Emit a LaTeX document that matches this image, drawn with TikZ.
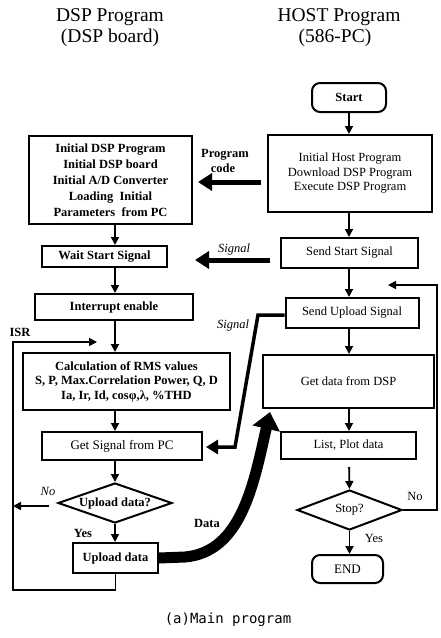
\documentclass[tikz,border=0pt]{standalone}
\usepackage{fontspec}
\setmainfont{Liberation Serif}
\newfontfamily\capfont{DejaVu Sans Mono}
\usetikzlibrary{arrows.meta,shapes.geometric}
\begin{document}
\begin{tikzpicture}[x=1pt,y=-1pt,
  box/.style={draw, line width=2pt, rectangle, inner sep=0pt, align=center},
  rbox/.style={box, rounded corners=8pt},
  dbox/.style={draw, line width=2pt, diamond, inner sep=0pt},
  hfont/.style={font=\fontsize{12.5}{14.5}\selectfont},
  dfont/.style={font=\fontsize{12.5}{16}\selectfont\bfseries},
  cfont/.style={font=\fontsize{12.5}{14.5}\selectfont\bfseries},
  title/.style={font=\fontsize{19.5}{22}\selectfont, inner sep=0pt},
  lab/.style={font=\fontsize{12.5}{14}\selectfont, inner sep=0pt},
  blab/.style={font=\fontsize{12.5}{14}\selectfont\bfseries, inner sep=0pt},
  ilab/.style={font=\fontsize{12.5}{14}\selectfont\itshape, inner sep=0pt},
  arr/.style={line width=1.8pt, -{Triangle[length=8pt,width=8pt]}},
  thinline/.style={line width=1.6pt},
  thinarr/.style={line width=1.6pt, -{Triangle[length=8pt,width=8pt]}},
  fatarr/.style={line width=5pt, -{Triangle[length=14pt,width=17pt]}},
  medarr/.style={line width=3.5pt, -{Triangle[length=12pt,width=14pt]}},
  dataarr/.style={line width=11pt, -{Triangle[length=17pt,width=27pt]}},
]
\useasboundingbox (0,0) rectangle (440,638);
\fill[white] (0,0) rectangle (440,638);

% titles
\node[title] (t1) at (110,17) {DSP Program};
\node[title] (t2) at (110,38) {(DSP board)};
\node[title] (t3) at (339,17) {HOST Program};
\node[title] (t4) at (335,38) {(586-PC)};

% host column
\node[rbox, font=\fontsize{12.5}{14.5}\selectfont\bfseries, minimum width=74pt, minimum height=29pt] (start) at (349,97.5) {Start};
\node[box, hfont, minimum width=164pt, minimum height=77pt] (hinit) at (350,173.5) {Initial Host Program\\Download DSP Program\\Execute DSP Program};
\node[box, hfont, minimum width=137pt, minimum height=30pt] (sstart) at (349.5,253) {Send Start Signal};
\node[box, hfont, minimum width=133pt, minimum height=30pt] (supload) at (352,313) {Send Upload Signal};
\node[box, hfont, minimum width=171pt, minimum height=53pt] (getdata) at (348.5,381.5) {Get data from DSP};
\node[box, hfont, minimum width=135pt, minimum height=27pt] (list) at (348.5,445.5) {List, Plot data};
\node[dbox, hfont, minimum width=105pt, minimum height=40pt] (stop) at (349.5,510) {\makebox[0pt]{Stop?}};
\node[rbox, font=\fontsize{13}{15}\selectfont, minimum width=71pt, minimum height=28pt] (end) at (347.5,569) {END};

% DSP column
\node[box, dfont, minimum width=163pt, minimum height=88pt] (dinit) at (110.5,180) {Initial DSP Program\\Initial DSP board\\Initial A/D Converter\\Loading~~Initial\\Parameters~~from PC};
\node[box, dfont, minimum width=125pt, minimum height=21pt] (wait) at (104.5,256.5) {Wait Start Signal};
\node[box, dfont, minimum width=158pt, minimum height=26pt] (intr) at (114,307) {Interrupt enable};
\node[box, cfont, minimum width=207pt, minimum height=57pt] (calc) at (126.5,381.5) {Calculation of RMS values\\S, P, Max.Correlation Power, Q, D\\Ia, Ir, Id, cosφ,λ, \%THD};
\node[box, font=\fontsize{13}{15}\selectfont, minimum width=160pt, minimum height=28pt] (getsig) at (122,446) {Get Signal from PC};
\node[dbox, dfont, minimum width=114pt, minimum height=40pt] (updq) at (115,503) {\makebox[0pt]{Upload data?}};
\node[box, dfont, minimum width=85pt, minimum height=30pt] (upd) at (115.5,558) {Upload data};

% labels
\node[blab] (lpc1) at (225,155) {Program};
\node[blab] (lpc2) at (223,168) {code};
\node[ilab] (ls1) at (234,249) {Signal};
\node[ilab] (ls2) at (233,325) {Signal};
\node[blab] (ldata) at (207,523) {Data};
\node[ilab] (lno1) at (48,491) {No};
\node[blab] (lyes1) at (83,533) {Yes};
\node[lab] (lno2) at (415,496) {No};
\node[lab] (lyes2) at (374,538) {Yes};
\node[blab] (lisr) at (20,332) {ISR};
\node[font=\capfont\fontsize{14}{16}\selectfont, inner sep=0pt] (cap) at (228,620) {(a)Main program};

% helper coordinates
\coordinate (ax) at (115,0);
\coordinate (hx) at (349,0);
\coordinate (pcy) at (0,182);
\coordinate (sy) at (0,260);
\coordinate (uy) at (0,315);
\coordinate (u1) at (258,315);
\coordinate (u2) at (235,447);
\coordinate (gy) at (0,447);
\coordinate (lb1) at (115.5,590);
\coordinate (lb2) at (13,590);
\coordinate (lb3) at (13,342);
\coordinate (isr) at (97,342);
\coordinate (ny) at (0,506);
\coordinate (rb1) at (437,510);
\coordinate (rb2) at (437,285);
\coordinate (rend) at (388,285);
\coordinate (d1) at (185,557);
\coordinate (dtip) at (270,412);

% DSP column arrows
\draw[arr] (dinit.south -| ax) -- (wait.north -| ax);
\draw[arr] (wait.south -| ax) -- (intr.north -| ax);
\draw[arr] (intr.south -| ax) -- (calc.north -| ax);
\draw[arr] (calc.south -| ax) -- (getsig.north -| ax);
\draw[arr] (getsig.south -| ax) -- (updq.north);
\draw[arr] (updq.south) -- (upd.north -| updq.south);

% host column arrows
\draw[arr] (start.south -| hx) -- (hinit.north -| hx);
\draw[arr] (hinit.south -| hx) -- (sstart.north -| hx);
\draw[arr] (sstart.south -| hx) -- (supload.north -| hx);
\draw[arr] (supload.south -| hx) -- (getdata.north -| hx);
\draw[arr] (getdata.south -| hx) -- (list.north -| hx);
\draw[arr, shorten <=7pt] (list.south -| hx) -- (stop.north);
\draw[arr] (stop.south) -- (end.north -| stop.south);

% cross arrows
\draw[fatarr, shorten <=6pt, shorten >=5pt] (hinit.west |- pcy) -- (dinit.east |- pcy);
\draw[fatarr, shorten <=10pt, shorten >=27pt] (sstart.west |- sy) -- (wait.east |- sy);
\draw[medarr, shorten >=3pt] (supload.west |- uy) -- (u1) -- (u2) -- (getsig.east |- gy);
\draw[dataarr] (upd.east) -- (d1) .. controls (242,552) and (254,482) .. (dtip);

% loops
\draw[thinarr] (upd.south) -- (lb1) -- (lb2) -- (lb3) -- (isr);
\draw[thinarr, shorten <=8pt] (updq.west |- ny) -- (lb2 |- ny);
\draw[thinarr] (stop.east) -- (rb1) -- (rb2) -- (rend);
\end{tikzpicture}
\end{document}
